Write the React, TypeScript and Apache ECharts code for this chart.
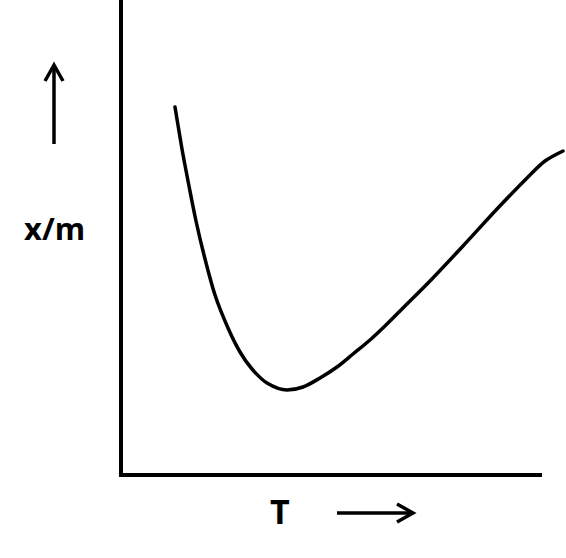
import React, { useEffect, useRef } from "react";
import * as echarts from "echarts";

// Curve: temperature (arbitrary units) vs extent of adsorption x/m (arbitrary units)
const temperature = [54, 61, 68, 75, 83, 94, 107, 119, 131, 146, 166, 182, 199, 216, 232, 249, 266, 282, 309, 342, 376, 409, 424, 442];
const adsorption = [368, 326, 289, 254, 220, 180, 147, 123, 106, 92, 85, 88, 97, 108, 121, 135, 151, 167, 194, 229, 266, 300, 314, 324];

// Axis frame extents (data units)
const axisXEnd = 419;
const axisYEnd = 475;
const xMax = 442;
const yMax = 475;

const yLabel = "x/m";
const xLabel = "T";

export default function App() {
  const ref = useRef<HTMLDivElement>(null);
  useEffect(() => {
    if (!ref.current) return;
    const chart = echarts.init(ref.current, null, { renderer: "svg" });
    const curve = temperature.map((t, i) => [t, adsorption[i]]);
    const frame = [
      [axisXEnd, 0],
      [0, 0],
      [0, axisYEnd],
    ];
    chart.setOption({
      animation: false,
      backgroundColor: "#ffffff",
      grid: { left: 121, right: 3, top: 0, bottom: 83, containLabel: false },
      xAxis: { type: "value", min: 0, max: xMax, show: false },
      yAxis: { type: "value", min: 0, max: yMax, show: false },
      series: [
        {
          type: "line",
          data: frame,
          symbol: "none",
          clip: false,
          lineStyle: { color: "#000", width: 4, cap: "square", join: "miter" },
          silent: true,
        },
        {
          type: "line",
          data: curve,
          symbol: "none",
          smooth: 0.3,
          clip: false,
          lineStyle: { color: "#000", width: 3.5, cap: "round" },
        },
      ],
      graphic: [
        {
          type: "text",
          left: 24,
          top: 212,
          style: { text: yLabel, font: "bold 31px 'Open Sans', sans-serif", fill: "#000" },
        },
        {
          type: "text",
          left: 270,
          top: 494,
          style: { text: xLabel, font: "bold 34px 'Open Sans', sans-serif", fill: "#000" },
        },
        {
          type: "line",
          shape: { x1: 54, y1: 144, x2: 54, y2: 66 },
          style: { stroke: "#000", lineWidth: 3.5 },
        },
        {
          type: "polyline",
          shape: { points: [[45, 81], [54, 65], [63, 81]] },
          style: { stroke: "#000", lineWidth: 3.5, fill: null },
        },
        {
          type: "line",
          shape: { x1: 337, y1: 513, x2: 412, y2: 513 },
          style: { stroke: "#000", lineWidth: 3.5 },
        },
        {
          type: "polyline",
          shape: { points: [[397, 504], [413, 513], [397, 522]] },
          style: { stroke: "#000", lineWidth: 3.5, fill: null },
        },
      ],
    });
    return () => chart.dispose();
  }, []);
  return <div ref={ref} style={{ width: 566, height: 558, position: "absolute", left: 0, top: 0 }} />;
}
